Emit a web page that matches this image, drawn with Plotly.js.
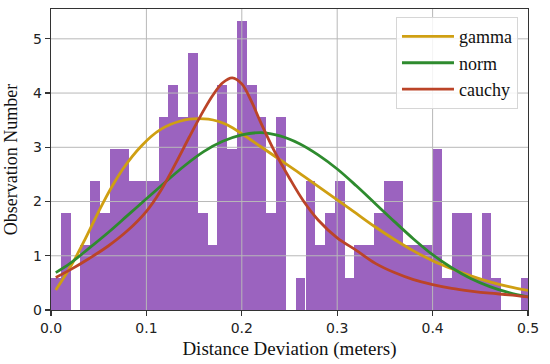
<!DOCTYPE html>
<html>
<head>
<meta charset="utf-8">
<script src="https://cdn.plot.ly/plotly-3.0.1.min.js"></script>
<style>html,body{margin:0;padding:0;background:#fff;}#chart{width:550px;height:364px;}</style>
</head>
<body>
<div id="chart"></div>
<script>
// Histogram bins (centres) and bar heights (density)
var binCenters = [0.0051,0.0154,0.0257,0.0359,0.0462,0.0564,0.0667,0.0770,0.0872,0.0975,
  0.1077,0.1180,0.1282,0.1385,0.1487,0.1590,0.1693,0.1795,0.1898,0.2000,
  0.2103,0.2206,0.2308,0.2411,0.2513,0.2616,0.2719,0.2821,0.2924,0.3026,
  0.3129,0.3232,0.3334,0.3437,0.3539,0.3642,0.3745,0.3847,0.3950,0.4052,
  0.4155,0.4258,0.4360,0.4463,0.4565,0.4668,0.4771,0.4873,0.4976];
var binHeights = [0.59,1.78,0,1.19,2.37,1.78,2.96,2.96,2.37,2.37,
  2.37,3.56,4.15,3.56,4.74,1.78,1.19,4.15,2.96,5.33,
  4.15,3.56,1.78,3.56,0,0.59,2.37,1.19,1.78,2.37,
  0.59,1.19,1.19,1.78,2.37,2.37,1.19,1.19,1.19,2.96,
  0.59,1.78,1.78,0.59,1.78,0.59,0,0,0.59];
var binWidth = 0.01026;

// Fitted curves
var gammaX = [0.005,0.015,0.025,0.035,0.045,0.055,0.065,0.075,0.085,0.095,0.105,0.115,0.125,0.135,0.145,0.155,0.165,0.175,0.185,0.20,0.22,0.24,0.26,0.28,0.30,0.32,0.34,0.36,0.38,0.40,0.42,0.44,0.46,0.48,0.50];
var gammaY = [0.37,0.64,0.94,1.28,1.64,1.99,2.31,2.59,2.83,3.03,3.20,3.33,3.42,3.48,3.52,3.53,3.52,3.48,3.41,3.25,3.01,2.77,2.53,2.28,2.03,1.78,1.53,1.30,1.09,0.91,0.76,0.63,0.52,0.43,0.36];

var normX = [0.005,0.02,0.04,0.06,0.08,0.10,0.12,0.14,0.16,0.18,0.20,0.22,0.24,0.26,0.28,0.30,0.32,0.34,0.36,0.38,0.40,0.42,0.44,0.46,0.48,0.50];
var normY = [0.69,0.86,1.14,1.43,1.74,2.05,2.36,2.66,2.92,3.11,3.23,3.27,3.21,3.07,2.86,2.60,2.29,1.96,1.63,1.31,1.02,0.78,0.58,0.43,0.32,0.24];

var cauchyX = [0.005,0.02,0.04,0.06,0.08,0.10,0.115,0.13,0.145,0.16,0.17,0.18,0.19,0.20,0.21,0.22,0.235,0.25,0.265,0.28,0.30,0.32,0.34,0.36,0.38,0.40,0.42,0.44,0.46,0.48,0.50];
var cauchyY = [0.60,0.74,0.95,1.18,1.46,1.82,2.20,2.68,3.19,3.68,3.97,4.19,4.28,4.17,3.85,3.45,2.90,2.43,2.00,1.66,1.33,1.10,0.86,0.69,0.56,0.47,0.40,0.35,0.31,0.28,0.24];

var seriesNames = ['gamma','norm','cauchy'];
var seriesColors = ['#cf9f12','#2e8b2e','#bb4428'];

// Axes
var xRange = [0, 0.5];
var yRange = [0, 5.55];
var xTickVals = [0, 0.1, 0.2, 0.3, 0.4, 0.5];
var xTickText = ['0.0','0.1','0.2','0.3','0.4','0.5'];
var yTickVals = [0, 1, 2, 3, 4, 5];
var yTickText = ['0','1','2','3','4','5'];

// Grid lines (drawn above bars, below curves, like matplotlib)
var gx = [], gy = [];
xTickVals.forEach(function(v){ if(v>xRange[0] && v<xRange[1]){ gx.push(v,v,null); gy.push(yRange[0],yRange[1],null);} });
yTickVals.forEach(function(v){ if(v>yRange[0] && v<yRange[1]){ gx.push(xRange[0],xRange[1],null); gy.push(v,v,null);} });

var traces = [
  {type:'bar', x:binCenters, y:binHeights, width:binWidth, marker:{color:'#9b63bf', line:{width:0}}, showlegend:false, hoverinfo:'skip'},
  {type:'scatter', mode:'lines', x:gx, y:gy, line:{color:'#b8b8b8', width:1}, showlegend:false, hoverinfo:'skip', connectgaps:false},
  {type:'scatter', mode:'lines', name:seriesNames[0], x:gammaX, y:gammaY, line:{color:seriesColors[0], width:2.8, shape:'spline', smoothing:1}},
  {type:'scatter', mode:'lines', name:seriesNames[1], x:normX, y:normY, line:{color:seriesColors[1], width:2.8, shape:'spline', smoothing:1}},
  {type:'scatter', mode:'lines', name:seriesNames[2], x:cauchyX, y:cauchyY, line:{color:seriesColors[2], width:2.8, shape:'spline', smoothing:1}}
];

var tickFont = {family:'DejaVu Sans', size:14, color:'#222'};
var titleFont = {family:'Liberation Serif', size:19, color:'#111'};

var layout = {
  width:550, height:364,
  margin:{l:51, r:22, t:9, b:54, pad:0},
  paper_bgcolor:'#fff', plot_bgcolor:'#fff',
  bargap:0,
  showlegend:true,
  xaxis:{range:xRange, tickvals:xTickVals, ticktext:xTickText, showgrid:false, zeroline:false,
    ticks:'outside', ticklen:5, tickwidth:1.2, tickcolor:'#333', tickfont:tickFont,
    showline:true, linecolor:'#333', linewidth:1.3, mirror:true,
    title:{text:'Distance Deviation (meters)', font:titleFont, standoff:6}},
  yaxis:{range:yRange, tickvals:yTickVals, ticktext:yTickText, showgrid:false, zeroline:false,
    ticks:'outside', ticklen:5, tickwidth:1.2, tickcolor:'#333', tickfont:tickFont,
    showline:true, linecolor:'#333', linewidth:1.3, mirror:true,
    title:{text:'Observation Number', font:{family:'Liberation Serif', size:18, color:'#111'}, standoff:10}},
  legend:{x:0.979, y:0.973, xanchor:'right', yanchor:'top', bgcolor:'rgba(255,255,255,0.85)',
    bordercolor:'#d6d6d6', borderwidth:1, font:{family:'Liberation Serif', size:18, color:'#111'},
    itemwidth:52}
};

Plotly.newPlot('chart', traces, layout, {staticPlot:true, displayModeBar:false});
</script>
</body>
</html>
